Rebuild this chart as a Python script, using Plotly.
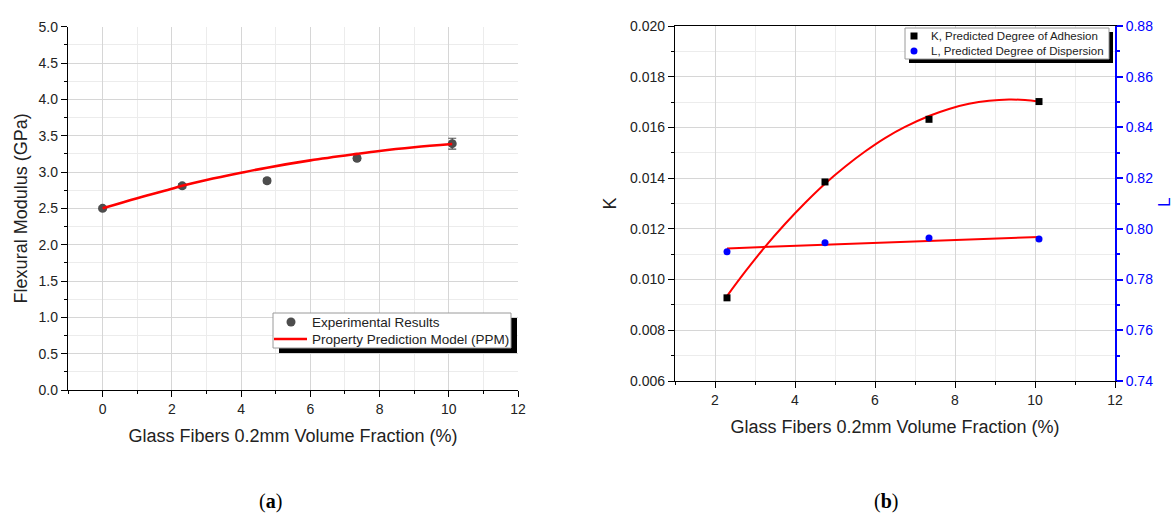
import plotly.graph_objects as go

# ---------------- data ----------------
# (a) Flexural modulus
frac_a = [0, 2.3, 4.75, 7.35, 10.1]
modulus = [2.50, 2.81, 2.88, 3.19, 3.39]
modulus_err = [0.02, 0.03, 0.03, 0.03, 0.075]
ppm_x = [0, 1, 2, 2.3, 3, 4, 4.75, 6, 7.35, 8, 9, 10.1]
ppm_y = [2.50, 2.64, 2.77, 2.81, 2.89, 2.99, 3.06, 3.16, 3.25, 3.29, 3.34, 3.385]

# (b) K and L
frac_b = [2.3, 4.75, 7.35, 10.1]
K_vals = [0.00928, 0.01385, 0.01632, 0.01702]
L_vals = [0.7910, 0.7945, 0.7964, 0.7960]
Kfit_x = [2.3, 2.75, 3.25, 3.75, 4.25, 4.75, 5.25, 5.75, 6.25, 6.75, 7.35, 7.85, 8.35, 8.85, 9.35, 9.75, 10.1]
Kfit_y = [0.00935, 0.01030, 0.01129, 0.01219, 0.01302, 0.01378, 0.01445, 0.01505, 0.01558, 0.01602,
          0.01645, 0.01673, 0.01693, 0.01705, 0.01710, 0.01708, 0.01702]
Lfit_x = [2.3, 10.1]
Lfit_y = [0.7923, 0.7968]

legend_a = ["Experimental Results", "Property Prediction Model (PPM)"]
legend_b = ["K, Predicted Degree of Adhesion", "L, Predicted Degree of Dispersion"]

W, H = 1174, 514
def px(x): return x / W
def py(y): return 1 - y / H

FONT = "Liberation Sans, Arial, sans-serif"
GRID = "#d6d6d6"
MINGRID = "#ececec"
TXT = "#222222"

fig = go.Figure()

fig.add_trace(go.Scatter(
    x=frac_a, y=modulus, mode="markers", name=legend_a[0], showlegend=False,
    marker=dict(color="#4d4d4d", size=9, symbol="circle"),
    error_y=dict(type="data", array=modulus_err, color="#555555", thickness=1.2, width=4),
    xaxis="x", yaxis="y"))
fig.add_trace(go.Scatter(
    x=ppm_x, y=ppm_y, mode="lines", name=legend_a[1], showlegend=False,
    line=dict(color="#ff0000", width=2.6, shape="spline"),
    xaxis="x", yaxis="y"))

fig.add_trace(go.Scatter(
    x=Kfit_x, y=Kfit_y, mode="lines", showlegend=False,
    line=dict(color="#ff0000", width=2, shape="spline"),
    xaxis="x2", yaxis="y2"))
fig.add_trace(go.Scatter(
    x=Lfit_x, y=Lfit_y, mode="lines", showlegend=False,
    line=dict(color="#ff0000", width=2),
    xaxis="x2", yaxis="y3"))
fig.add_trace(go.Scatter(
    x=frac_b, y=K_vals, mode="markers", name=legend_b[0], showlegend=False,
    marker=dict(color="black", size=7, symbol="square"),
    xaxis="x2", yaxis="y2"))
fig.add_trace(go.Scatter(
    x=frac_b, y=L_vals, mode="markers", name=legend_b[1], showlegend=False,
    marker=dict(color="#0000ff", size=7, symbol="circle"),
    xaxis="x2", yaxis="y3"))

tickfont = dict(family=FONT, size=14, color=TXT)
titlefont = dict(family=FONT, size=18, color=TXT)

def ax(**kw):
    base = dict(showline=True, linecolor="black", linewidth=1.3, ticks="outside", ticklen=6,
                tickcolor="black", tickwidth=1.2, tickfont=tickfont, zeroline=False,
                showgrid=True, gridcolor=GRID, gridwidth=1, automargin=False)
    base.update(kw)
    return base

def minor(d, color="black", grid=True):
    return dict(dtick=d, ticks="outside", ticklen=3, tickcolor=color,
                showgrid=grid, gridcolor=MINGRID)

fig.update_layout(
    width=W, height=H, margin=dict(l=0, r=0, t=0, b=0),
    paper_bgcolor="white", plot_bgcolor="white",
    font=dict(family=FONT, color=TXT),
    showlegend=False,
    xaxis=ax(domain=[px(68), px(518)], range=[-1, 12], tick0=0, dtick=2, minor=minor(1),
             title=dict(text="Glass Fibers 0.2mm Volume Fraction (%)", font=titlefont, standoff=13),
             anchor="y"),
    yaxis=ax(domain=[py(390), py(26.7)], range=[0, 5], tick0=0, dtick=0.5, tickformat=".1f",
             minor=minor(0.25),
             title=dict(text="Flexural Modulus (GPa)", font=titlefont, standoff=6),
             anchor="x"),
    xaxis2=ax(domain=[px(675), px(1115)], range=[1, 12], tick0=0, dtick=2, mirror=True,
              minor=minor(1),
              title=dict(text="Glass Fibers 0.2mm Volume Fraction (%)", font=titlefont, standoff=13),
              anchor="y2"),
    yaxis2=ax(domain=[py(381), py(26)], range=[0.006, 0.020], tick0=0.006, dtick=0.002,
              tickformat=".3f", minor=minor(0.001),
              title=dict(text="K", font=titlefont, standoff=8),
              anchor="x2"),
    yaxis3=dict(overlaying="y2", side="right", anchor="x2", range=[0.74, 0.88], tick0=0.74,
                dtick=0.02, tickformat=".2f", showline=True, linecolor="#0000ff", linewidth=1.8,
                ticks="outside", ticklen=6, tickcolor="#0000ff", tickwidth=1.5, automargin=False,
                tickfont=dict(family=FONT, size=14, color="#0000ff"), showgrid=False, zeroline=False,
                minor=dict(dtick=0.01, ticks="outside", ticklen=3, tickcolor="#0000ff")),
)

# right-axis title "L", right at the image edge
fig.add_annotation(text="L", x=px(1165), y=py(203), xref="paper", yref="paper",
                   xanchor="center", yanchor="middle", textangle=-90, showarrow=False,
                   font=dict(family=FONT, size=17, color="#0000ff"))

def rect(x0, y0, x1, y1, fill, line_color=None, lw=0):
    fig.add_shape(type="rect", xref="paper", yref="paper",
                  x0=px(x0), x1=px(x1), y0=py(y1), y1=py(y0),
                  fillcolor=fill, line=dict(width=lw, color=line_color or fill), layer="above")

# ---- legend (a): shadowed box in the Origin style ----
rect(279, 318, 517, 353, "black")
rect(273, 313, 511, 348, "white", "#9a9a9a", 1)
fig.add_shape(type="circle", xref="paper", yref="paper",
              x0=px(286.5), x1=px(295.5), y0=py(326.5), y1=py(317.5),
              fillcolor="#4d4d4d", line=dict(width=0), layer="above")
fig.add_shape(type="line", xref="paper", yref="paper",
              x0=px(274), x1=px(307), y0=py(339), y1=py(339),
              line=dict(color="#ff0000", width=2.6), layer="above")
for txt, yy in zip(legend_a, [322, 339]):
    fig.add_annotation(text=txt, x=px(310), y=py(yy), xref="paper", yref="paper",
                       xanchor="left", yanchor="middle", showarrow=False,
                       font=dict(family=FONT, size=13.5, color=TXT))

# ---- legend (b) ----
rect(909, 32, 1113, 63, "black")
rect(905, 28, 1109, 59, "white", "#9a9a9a", 1)
fig.add_shape(type="rect", xref="paper", yref="paper",
              x0=px(910.5), x1=px(917.5), y0=py(39.5), y1=py(32.5),
              fillcolor="black", line=dict(width=0), layer="above")
fig.add_shape(type="circle", xref="paper", yref="paper",
              x0=px(910.5), x1=px(917.5), y0=py(54.5), y1=py(47.5),
              fillcolor="#0000ff", line=dict(width=0), layer="above")
for txt, yy in zip(legend_b, [36, 51]):
    fig.add_annotation(text=txt, x=px(929), y=py(yy), xref="paper", yref="paper",
                       xanchor="left", yanchor="middle", showarrow=False,
                       font=dict(family=FONT, size=11.5, color=TXT))

fig.add_annotation(text="(<b>a</b>)", x=px(270), y=py(501), xref="paper", yref="paper",
                   xanchor="center", yanchor="middle", showarrow=False,
                   font=dict(family="Liberation Serif, Times New Roman, serif", size=20, color="black"))
fig.add_annotation(text="(<b>b</b>)", x=px(886), y=py(501), xref="paper", yref="paper",
                   xanchor="center", yanchor="middle", showarrow=False,
                   font=dict(family="Liberation Serif, Times New Roman, serif", size=20, color="black"))

fig.write_html("out.html")
